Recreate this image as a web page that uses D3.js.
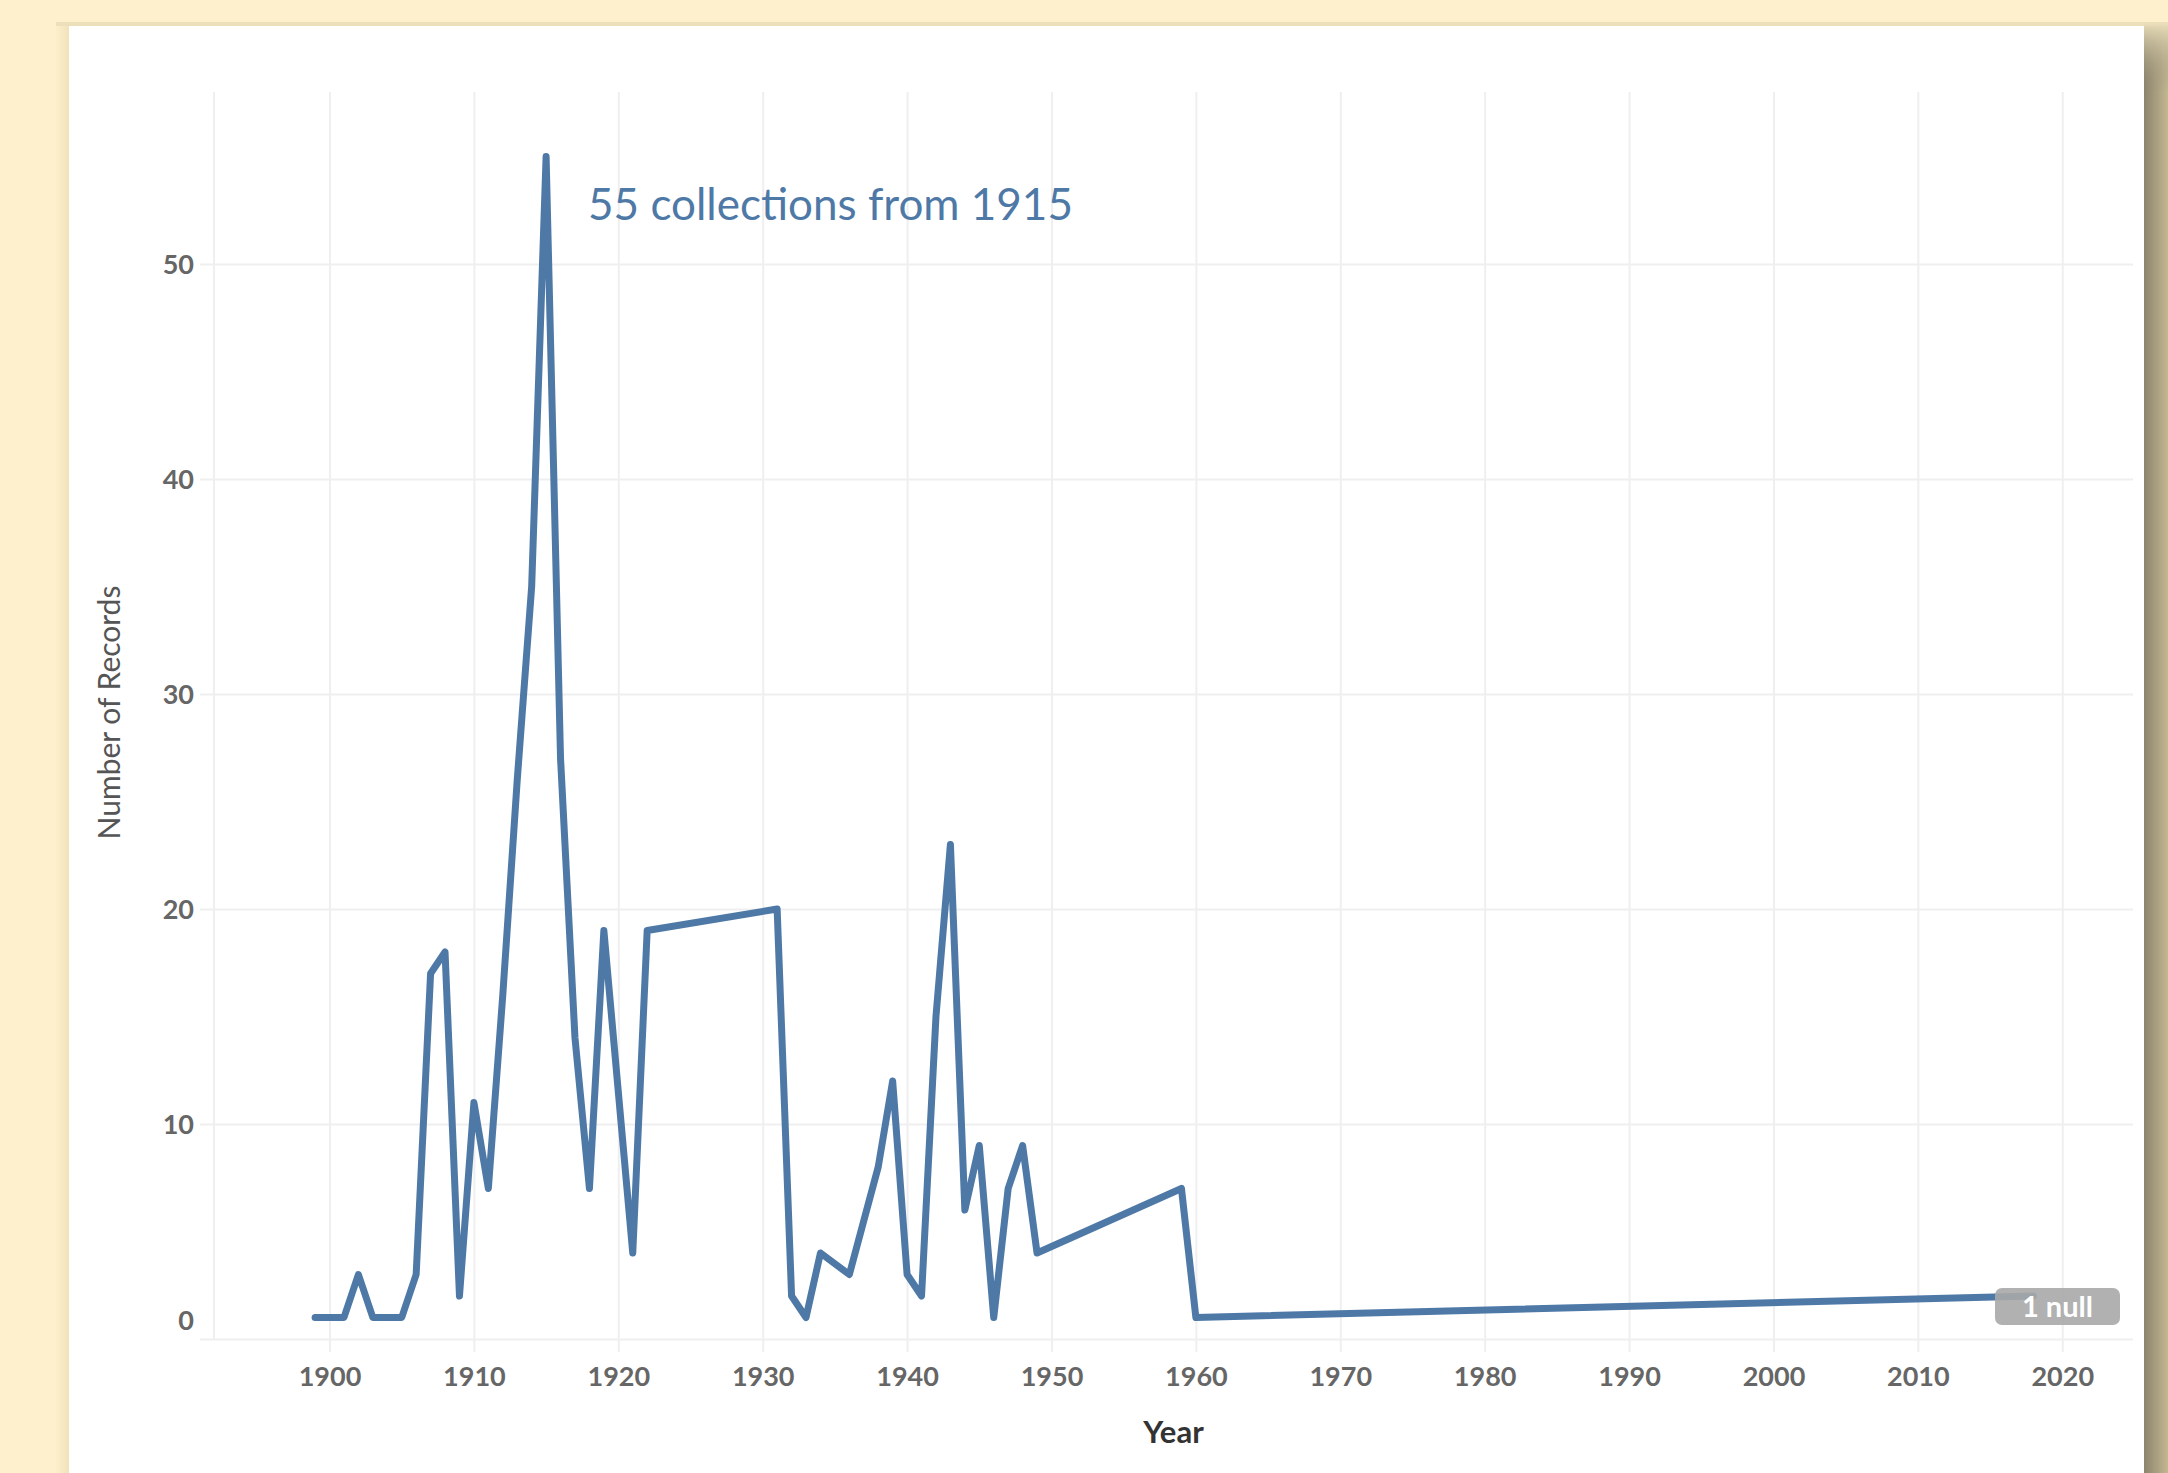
<!DOCTYPE html>
<html>
<head>
<meta charset="utf-8">
<script src="https://cdn.jsdelivr.net/npm/d3@7"></script>
<style>
  html, body { margin: 0; padding: 0; background: #fef0cd; }
  svg { display: block; }
</style>
</head>
<body>
<svg id="chart" width="2168" height="1473"></svg>
<script>
// ---- data ----
const years  = [1899,1900,1901,1902,1903,1904,1905,1906,1907,1908,1909,1910,1911,1912,1913,1914,1915,1916,1917,1918,1919,1921,1922,1931,1932,1933,1934,1936,1938,1939,1940,1941,1942,1943,1944,1945,1946,1947,1948,1949,1959,1960,2018];
const records = [1,1,1,3,1,1,1,3,17,18,2,11,7,16,26,35,55,27,14,7,19,4,19,20,2,1,4,3,8,12,3,2,15,23,6,9,1,7,9,4,7,1,2];
const xTickValues = [1900,1910,1920,1930,1940,1950,1960,1970,1980,1990,2000,2010,2020];
const yTickValues = [0,10,20,30,40,50];
const annotationText = "55 collections from 1915";
const nullText = "1 null";
const xTitle = "Year";
const yTitle = "Number of Records";

const data = years.map((yr, i) => ({ year: yr, value: records[i] }));

// ---- layout ----
const W = 2168, H = 1473;
const panel = { x: 69, y: 26, right: 2144 };
const plot = { left: 214, right: 2133, top: 92, bottom: 1339 };
const blue = "#4e79a7";
const gridColor = "#efefef";
const tickFont = "Lato, sans-serif";

const svg = d3.select("#chart");
const defs = svg.append("defs");

// shadows around the white card
const gR = defs.append("linearGradient").attr("id", "shadowR").attr("x1", 0).attr("x2", 1).attr("y1", 0).attr("y2", 0);
gR.append("stop").attr("offset", "0%").attr("stop-color", "#8b836d");
gR.append("stop").attr("offset", "100%").attr("stop-color", "#c4b891");
const gL = defs.append("linearGradient").attr("id", "shadowL").attr("x1", 0).attr("x2", 1).attr("y1", 0).attr("y2", 0);
gL.append("stop").attr("offset", "0%").attr("stop-color", "#fef0cd");
gL.append("stop").attr("offset", "100%").attr("stop-color", "#f2e2bb");
const gT = defs.append("linearGradient").attr("id", "shadowTopR").attr("x1", 0).attr("x2", 0).attr("y1", 0).attr("y2", 1);
gT.append("stop").attr("offset", "0%").attr("stop-color", "#ece0bb");
gT.append("stop").attr("offset", "100%").attr("stop-color", "#8b836d").attr("stop-opacity", 0);

svg.append("rect").attr("x", 0).attr("y", 0).attr("width", W).attr("height", H).attr("fill", "#fef0cd");
svg.append("rect").attr("x", 56).attr("y", 22).attr("width", W - 56).attr("height", 4).attr("fill", "#ece0bb");
svg.append("rect").attr("x", 55).attr("y", 26).attr("width", 14).attr("height", H - 26).attr("fill", "url(#shadowL)");
svg.append("rect").attr("x", panel.right).attr("y", 26).attr("width", W - panel.right).attr("height", H - 26).attr("fill", "url(#shadowR)");
svg.append("rect").attr("x", panel.right).attr("y", 22).attr("width", W - panel.right).attr("height", 70).attr("fill", "url(#shadowTopR)");
svg.append("rect").attr("x", panel.x).attr("y", panel.y).attr("width", panel.right - panel.x).attr("height", H - panel.y).attr("fill", "#ffffff");

// ---- scales ----
const x = d3.scaleLinear().domain([1892, 2024.9]).range([plot.left, plot.right]);
const y = d3.scaleLinear().domain([0, 58]).range([plot.bottom, plot.top]);

// pane left border
svg.append("line")
  .attr("x1", plot.left).attr("x2", plot.left)
  .attr("y1", plot.top).attr("y2", plot.bottom)
  .attr("stroke", gridColor).attr("stroke-width", 2);

// ---- x axis (with vertical gridlines) ----
const xAxisY = plot.bottom + 13;
const xAxis = svg.append("g")
  .attr("transform", `translate(0,${xAxisY})`)
  .call(d3.axisBottom(x).tickValues(xTickValues).tickFormat(d3.format("d")).tickSize(-(xAxisY - plot.top)));
xAxis.select(".domain").remove();
xAxis.selectAll(".tick line").attr("stroke", gridColor).attr("stroke-width", 2);
xAxis.selectAll(".tick text")
  .attr("y", 34).attr("dy", 0)
  .attr("fill", "#666666")
  .style("font-family", tickFont)
  .style("font-weight", "700")
  .style("font-size", "27px");

// ---- y axis (with horizontal gridlines) ----
const yAxisX = plot.left - 14;
const yAxis = svg.append("g")
  .attr("transform", `translate(${yAxisX},0)`)
  .call(d3.axisLeft(y).tickValues(yTickValues).tickFormat(d3.format("d")).tickSize(-(plot.right - yAxisX)));
yAxis.select(".domain").remove();
yAxis.selectAll(".tick line").attr("stroke", gridColor).attr("stroke-width", 2);
yAxis.selectAll(".tick text")
  .attr("x", -6)
  .attr("dy", d => d === 0 ? "-0.36em" : "0.36em")
  .attr("text-anchor", "end")
  .attr("fill", "#666666")
  .style("font-family", tickFont)
  .style("font-weight", "700")
  .style("font-size", "27px");

// ---- axis titles ----
svg.append("text")
  .attr("x", (plot.left + plot.right) / 2)
  .attr("y", 1443)
  .attr("text-anchor", "middle")
  .attr("fill", "#333333")
  .style("font-family", "Lato, sans-serif")
  .style("font-weight", "700")
  .style("font-size", "31px")
  .text(xTitle);

svg.append("text")
  .attr("transform", `translate(120,${(plot.top + plot.bottom) / 2 - 3}) rotate(-90)`)
  .attr("text-anchor", "middle")
  .attr("fill", "#555555")
  .style("font-family", "Lato, sans-serif")
  .style("font-size", "30px")
  .text(yTitle);

// ---- line ----
const line = d3.line().x(d => x(d.year)).y(d => y(d.value));
svg.append("path")
  .datum(data)
  .attr("d", line)
  .attr("fill", "none")
  .attr("stroke", blue)
  .attr("stroke-width", 7)
  .attr("stroke-linejoin", "round")
  .attr("stroke-linecap", "round");

// ---- annotation at the peak ----
const peak = data.reduce((a, b) => (b.value > a.value ? b : a));
svg.append("text")
  .attr("x", x(peak.year) + 42)
  .attr("y", y(peak.value) + 63)
  .attr("fill", blue)
  .style("font-family", "Lato, sans-serif")
  .style("font-size", "44px")
  .text(annotationText);

// ---- null indicator ----
const badgeW = 125, badgeH = 37;
const badge = svg.append("g").attr("transform", `translate(${plot.right - 13 - badgeW},${plot.bottom - 14 - badgeH})`);
badge.append("rect")
  .attr("width", badgeW).attr("height", badgeH).attr("rx", 7)
  .attr("fill", "#a8a8a8").attr("fill-opacity", 0.9);
badge.append("text")
  .attr("x", badgeW / 2).attr("y", badgeH / 2).attr("dy", "0.36em")
  .attr("text-anchor", "middle")
  .attr("fill", "#ffffff")
  .style("font-family", "Lato, sans-serif")
  .style("font-weight", "700")
  .style("font-size", "29px")
  .text(nullText);
</script>
</body>
</html>
